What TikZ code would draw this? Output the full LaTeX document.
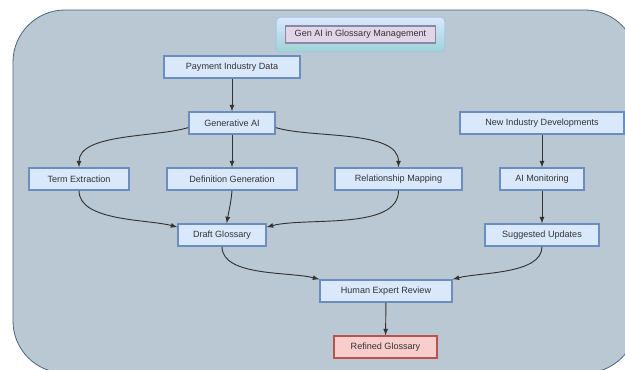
\documentclass[tikz,border=0pt]{standalone}
\usepackage{fontspec}
\setmainfont{Liberation Sans}
\usepackage{tikz}
\usetikzlibrary{arrows}
\usetikzlibrary{positioning}
\definecolor{bfill}{HTML}{DAE8FC}
\definecolor{bline}{HTML}{6C8EBF}
\definecolor{rfill}{HTML}{F8CECC}
\definecolor{rline}{HTML}{B85450}
\definecolor{bgfill}{HTML}{BAC8D3}
\definecolor{bgline}{HTML}{4A6782}
\definecolor{tfill}{HTML}{E1D5E7}
\definecolor{tline}{HTML}{8C86A8}
\definecolor{ttop}{HTML}{DAE8FC}
\definecolor{tbot}{HTML}{9ED3D6}
\definecolor{tedge}{HTML}{A6C4E8}
\definecolor{tgray}{HTML}{333333}
\tikzset{blk/.style = {draw = bline, fill = bfill, line width = 1pt, minimum height = 16.5pt, inner sep = 0, font = \fontsize{6.8}{8}\selectfont, text = tgray}}
\tikzset{lnk/.style = {->, >=latex, draw = tgray, line width = 0.7pt}}

\begin{document}
\begin{tikzpicture}[x = 0.75pt, y = 0.75pt]
    \useasboundingbox (0, 0) rectangle (625, -370);
    \clip (0, 0) rectangle (625, -370);
    \draw [fill = bgfill, draw = bgline, line width = 0.6pt, rounded corners = 39pt] (13, -10) rectangle (637, -373);

    \node [draw = tedge, top color = ttop, bottom color = tbot, line width = 0.8pt, rounded corners = 3pt, minimum width = 126.5pt, minimum height = 26pt] (hdr) at (360.5, -34.5) {};
    \node [blk, draw = tline, fill = tfill, line width = 0.8pt, minimum width = 113pt, minimum height = 12.75pt] (title) at (hdr) {Gen AI in Glossary Management};

    \node [blk, minimum width = 102pt] (pid) at (232, -67) {Payment Industry Data};
    \node [blk, minimum width = 64.5pt] (genai) at (232, -123) {Generative AI};
    \node [blk, minimum width = 123pt] (nid) at (542, -123) {New Industry Developments};

    \node [blk, minimum width = 75pt] (te) at (79, -179) {Term Extraction};
    \node [blk, minimum width = 97.5pt] (dg) at (232, -179) {Definition Generation};
    \node [blk, minimum width = 95.25pt] (rm) at (398.5, -179) {Relationship Mapping};
    \node [blk, minimum width = 63pt] (aim) at (542, -179) {AI Monitoring};

    \node [blk, minimum width = 66pt] (draft) at (222, -235) {Draft Glossary};
    \node [blk, minimum width = 85.5pt] (su) at (542, -235) {Suggested Updates};

    \node [blk, minimum width = 99pt] (her) at (386, -291) {Human Expert Review};
    \node [blk, draw = rline, fill = rfill, minimum width = 77.25pt] (rg) at (385.5, -347) {Refined Glossary};

    \draw [lnk] (pid) -- (genai);
    \draw [lnk] (genai.186) to [out = 197, in = 90, looseness = 0.75] (te.north);
    \draw [lnk] (genai) -- (dg);
    \draw [lnk] (genai.354) to [out = -17, in = 90, looseness = 0.75] (rm.north);
    \draw [lnk] (nid) -- (aim);
    \draw [lnk] (aim) -- (su);

    \draw [lnk] (te.south) to [out = -90, in = 165, looseness = 0.75] (draft.170);
    \draw [lnk] (dg.south) to [out = -95, in = 80] ([xshift = 3.5pt] draft.north);
    \draw [lnk] (rm.south) to [out = -90, in = 15, looseness = 0.75] (draft.10);

    \draw [lnk] (draft.south) to [out = -90, in = 165, looseness = 0.75] (her.north west);
    \draw [lnk] (su.south) to [out = -90, in = 15, looseness = 0.75] (her.north east);
    \draw [lnk] (her) -- (rg);
\end{tikzpicture}
\end{document}
